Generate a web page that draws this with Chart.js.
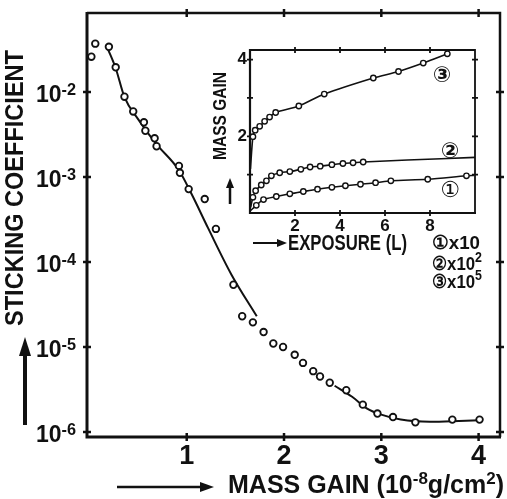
<!DOCTYPE html>
<html>
<head>
<meta charset="utf-8">
<script src="https://cdn.jsdelivr.net/npm/chart.js@4.4.1/dist/chart.umd.min.js"></script>
<style>
  html, body { margin: 0; padding: 0; background: #fff; }
  #wrap { position: relative; width: 507px; height: 499px; overflow: hidden; }
  #main { position: absolute; left: 0; top: 0; }
  #inset { position: absolute; left: 220px; top: 30px; }
</style>
</head>
<body>
<div id="wrap">
  <canvas id="main" width="507" height="499"></canvas>
  <canvas id="inset" width="287" height="260"></canvas>
</div>
<script>
// ---------------- DATA (main plot) ----------------
const massGain = [0.02, 0.06, 0.20, 0.27, 0.36, 0.45, 0.56, 0.575, 0.67, 0.69, 0.92, 0.93, 1.02, 1.185, 1.30,
                  1.48, 1.57, 1.68, 1.79, 1.89, 1.99, 2.11, 2.195, 2.30, 2.37, 2.47, 2.64, 2.81, 2.96, 3.12, 3.35, 3.73, 4.01];
const sticking = [2.6e-2, 3.7e-2, 3.4e-2, 1.95e-2, 8.8e-3, 5.9e-3, 4.4e-3, 3.5e-3, 2.85e-3, 2.3e-3, 1.35e-3, 1.12e-3, 7.2e-4, 5.5e-4, 2.45e-4,
                  5.4e-5, 2.3e-5, 1.95e-5, 1.5e-5, 1.1e-5, 1.0e-5, 8.1e-6, 6.5e-6, 5.2e-6, 4.5e-6, 3.8e-6, 3.1e-6, 2.1e-6, 1.65e-6, 1.5e-6, 1.3e-6, 1.4e-6, 1.4e-6];
// hand-drawn fitted curve (null = break in the drawn line)
const curveGain     = [0.19, 0.27, 0.36, 0.50, 0.68, 0.92, 1.05, 1.22, 1.46, 1.72, 2.0, 2.52, 2.70, 2.85, 3.00, 3.20, 3.50, 3.80, 4.01];
const curveSticking = [3.2e-2, 1.9e-2, 8.7e-3, 4.8e-3, 2.5e-3, 1.2e-3, 6.3e-4, 2.5e-4, 7.1e-5, 2.3e-5, null, 3.5e-6, 2.6e-6, 1.9e-6, 1.6e-6, 1.4e-6, 1.32e-6, 1.35e-6, 1.38e-6];
const xTickValues = [1, 2, 3, 4];
const xTickLabels = ['1', '2', '3', '4'];
const yTickValues = [1e-6, 1e-5, 1e-4, 1e-3, 1e-2];
const yTickExponents = ['-6', '-5', '-4', '-3', '-2'];

// ---------------- DATA (inset) ----------------
const exposure1 = [0.28, 0.6, 1.17, 1.77, 2.37, 3.0, 3.64, 4.24, 4.91, 5.58, 6.26, 7.9, 9.62];
const gain1     = [0.20, 0.35, 0.43, 0.50, 0.56, 0.62, 0.67, 0.71, 0.75, 0.79, 0.84, 0.88, 0.97];
const exposure2 = [0.13, 0.25, 0.5, 0.73, 0.95, 1.32, 1.77, 2.26, 2.67, 3.12, 3.64, 4.13, 4.58, 5.03];
const gain2     = [0.41, 0.58, 0.73, 0.84, 0.97, 1.05, 1.08, 1.14, 1.20, 1.22, 1.26, 1.29, 1.31, 1.33];
const exposure3 = [0.13, 0.23, 0.43, 0.65, 0.87, 1.14, 2.17, 3.3, 5.48, 6.6, 7.7, 8.77];
const gain3     = [1.99, 2.16, 2.26, 2.39, 2.50, 2.62, 2.79, 3.10, 3.52, 3.69, 3.91, 4.15];
// drawn lines of the inset
const line1X = [0.02, 0.28, 0.6, 1.17, 1.77, 2.37, 3.0, 3.64, 4.24, 4.91, 5.58, 6.26, 7.9, 9.62, 9.95];
const line1Y = [0.06, 0.20, 0.35, 0.43, 0.50, 0.56, 0.62, 0.67, 0.71, 0.75, 0.79, 0.84, 0.88, 0.97, 0.98];
const line2X = [0.03, 0.13, 0.25, 0.5, 0.73, 0.95, 1.32, 1.77, 2.26, 2.67, 3.12, 3.64, 4.13, 4.58, 5.03, 7.0, 10.0];
const line2Y = [0.15, 0.41, 0.58, 0.73, 0.84, 0.97, 1.05, 1.08, 1.14, 1.20, 1.22, 1.26, 1.29, 1.31, 1.33, 1.38, 1.45];
const line3X = [0.02, 0.13, 0.23, 0.43, 0.65, 0.87, 1.14, 2.17, 3.3, 5.48, 6.6, 7.7, 8.77];
const line3Y = [1.15, 1.99, 2.16, 2.26, 2.39, 2.50, 2.62, 2.79, 3.10, 3.52, 3.69, 3.91, 4.15];
const insetXTicks = [2, 4, 6, 8];
const insetYTicks = [1, 2, 3, 4];
const insetYLabels = {2: '2', 4: '4'};

// ---------------- helpers ----------------
const INK = '#111';
const FAM = '"Liberation Sans", Arial, sans-serif';
const pts = (xs, ys) => xs.map((x, i) => ({x: x, y: ys[i]}));

// draw text made of parts (some superscript), squeezed to a given width
function rich(ctx, parts, o) {
  ctx.save();
  const wt = o.weight || 'bold';
  const base = wt + ' ' + o.size + 'px ' + FAM;
  const sup = wt + ' ' + (o.supSize || Math.round(o.size * 0.68)) + 'px ' + FAM;
  let w = 0;
  parts.forEach(p => { ctx.font = p.sup ? sup : base; p.w = ctx.measureText(p.t).width; w += p.w; });
  const sx = o.fit ? o.fit / w : (o.sx || 1);
  ctx.translate(o.x, o.y);
  if (o.rot) ctx.rotate(o.rot);
  ctx.scale(sx, 1);
  let cx = o.align === 'center' ? -w / 2 : (o.align === 'right' ? -w : 0);
  ctx.textAlign = 'left'; ctx.textBaseline = 'alphabetic'; ctx.fillStyle = INK;
  parts.forEach(p => {
    ctx.font = p.sup ? sup : base;
    ctx.fillText(p.t, cx, p.sup ? -(o.raise || o.size * 0.4) : 0);
    cx += p.w;
  });
  ctx.restore();
}

function arrow(ctx, x1, y1, x2, y2, head, hw, w) {
  const a = Math.atan2(y2 - y1, x2 - x1), c = Math.cos(a), s = Math.sin(a);
  ctx.save();
  ctx.strokeStyle = INK; ctx.fillStyle = INK; ctx.lineWidth = w;
  ctx.beginPath(); ctx.moveTo(x1, y1);
  ctx.lineTo(x2 - c * head * 0.7, y2 - s * head * 0.7); ctx.stroke();
  ctx.beginPath();
  ctx.moveTo(x2, y2);
  ctx.lineTo(x2 - c * head + s * hw, y2 - s * head - c * hw);
  ctx.lineTo(x2 - c * head - s * hw, y2 - s * head + c * hw);
  ctx.closePath(); ctx.fill();
  ctx.restore();
}

function frameAndTicks(chart, xs, ys, lw, lwThin, tk) {
  const ctx = chart.ctx, a = chart.chartArea, sx = chart.scales.x, sy = chart.scales.y;
  ctx.save();
  ctx.strokeStyle = INK;
  ctx.lineWidth = lwThin;
  ctx.beginPath();
  ctx.moveTo(a.left, a.top); ctx.lineTo(a.right, a.top); ctx.lineTo(a.right, a.bottom);
  ctx.stroke();
  ctx.lineWidth = lw;
  ctx.beginPath();
  ctx.moveTo(a.left, a.top - 1); ctx.lineTo(a.left, a.bottom); ctx.lineTo(a.right + 1, a.bottom);
  ctx.stroke();
  ctx.lineWidth = Math.max(1.5, lwThin);
  ctx.beginPath();
  xs.forEach(v => {
    const px = sx.getPixelForValue(v);
    ctx.moveTo(px, a.bottom - tk); ctx.lineTo(px, a.bottom + tk);
    ctx.moveTo(px, a.top - tk); ctx.lineTo(px, a.top + tk);
  });
  ys.forEach(v => {
    const py = sy.getPixelForValue(v);
    ctx.moveTo(a.left - tk, py); ctx.lineTo(a.left + tk, py);
    ctx.moveTo(a.right - tk, py); ctx.lineTo(a.right + tk, py);
  });
  ctx.stroke();
  ctx.restore();
}

// ---------------- main chart ----------------
const mainDecor = {
  id: 'mainDecor',
  beforeDatasetsDraw(chart) {
    frameAndTicks(chart, xTickValues, yTickValues, 3, 2.5, 4);
  },
  afterDraw(chart) {
    const ctx = chart.ctx, sy = chart.scales.y;
    // y tick labels 10^n placed by the y scale
    yTickValues.forEach((v, i) => {
      const py = sy.getPixelForValue(v);
      rich(ctx, [{t: '10'}, {t: yTickExponents[i], sup: true}],
        {x: 76, y: py + 10, size: 24, supSize: 17, raise: 7, align: 'right', fit: 40});
    });
    // y title + arrow
    rich(ctx, [{t: 'STICKING COEFFICIENT'}],
      {x: 23, y: 188, size: 26, rot: -Math.PI / 2, align: 'center', fit: 276, raise: 0});
    arrow(ctx, 25, 425, 25, 337, 19, 6, 4);
    // x title + arrow
    rich(ctx, [{t: 'MASS GAIN (10'}, {t: '-8', sup: true}, {t: 'g/cm'}, {t: '2', sup: true}, {t: ')'}],
      {x: 228, y: 493, size: 25, supSize: 17, raise: 9, align: 'left', fit: 276});
    arrow(ctx, 117, 487, 214, 487, 14, 5, 2.5);
    // inset annotations outside the inset frame
    rich(ctx, [{t: 'MASS GAIN'}], {x: 226, y: 116, size: 18, rot: -Math.PI / 2, align: 'center', fit: 88});
    arrow(ctx, 230, 204, 230, 178, 10, 4, 2.5);
    arrow(ctx, 253, 243, 287, 243, 10, 4, 2);
    rich(ctx, [{t: 'EXPOSURE (L)'}], {x: 288, y: 250, size: 22, align: 'left', fit: 119});
    rich(ctx, [{t: '\u2460x10'}], {x: 432, y: 249, size: 19, align: 'left', fit: 48});
    rich(ctx, [{t: '\u2461x10'}, {t: '2', sup: true}], {x: 432, y: 270, size: 19, supSize: 14, raise: 8, align: 'left', fit: 50});
    rich(ctx, [{t: '\u2462x10'}, {t: '5', sup: true}], {x: 432, y: 288, size: 19, supSize: 14, raise: 8, align: 'left', fit: 50});
  }
};

new Chart(document.getElementById('main'), {
  type: 'scatter',
  data: {
    datasets: [
      {
        type: 'line',
        data: pts(curveGain, curveSticking),
        borderColor: INK, borderWidth: 2, pointRadius: 0, fill: false,
        cubicInterpolationMode: 'monotone', spanGaps: false, order: 2
      },
      {
        data: pts(massGain, sticking),
        pointRadius: 3.3, pointBorderWidth: 1.8, pointBorderColor: INK,
        pointBackgroundColor: '#fff', pointStyle: 'circle', showLine: false, order: 1
      }
    ]
  },
  options: {
    responsive: false, animation: false, devicePixelRatio: 1,
    layout: { padding: { top: 13, right: 7, left: 0, bottom: 0 } },
    plugins: { legend: { display: false }, tooltip: { enabled: false } },
    scales: {
      x: {
        type: 'linear', min: -0.025, max: 4.22,
        afterBuildTicks: s => { s.ticks = xTickValues.map(v => ({ value: v })); },
        afterFit: s => { s.height = 62; s.paddingLeft = 0; s.paddingRight = 0; },
        grid: { display: false, drawTicks: false },
        border: { display: false },
        ticks: {
          color: INK, font: { size: 27, family: FAM, weight: 'bold' }, padding: 3, maxRotation: 0,
          callback: v => xTickLabels[xTickValues.indexOf(v)]
        }
      },
      y: {
        type: 'logarithmic', min: 8.74e-7, max: 0.0849,
        afterBuildTicks: s => { s.ticks = yTickValues.map(v => ({ value: v })); },
        afterFit: s => { s.width = 87; s.paddingTop = 0; s.paddingBottom = 0; },
        grid: { display: false, drawTicks: false },
        border: { display: false },
        ticks: { display: false }
      }
    }
  },
  plugins: [mainDecor]
});

// ---------------- inset chart ----------------
const insetDecor = {
  id: 'insetDecor',
  beforeDatasetsDraw(chart) {
    frameAndTicks(chart, insetXTicks, insetYTicks, 2.2, 1.8, 3);
  },
  afterDraw(chart) {
    const ctx = chart.ctx;
    ctx.save();
    ctx.fillStyle = INK;
    ctx.textAlign = 'center'; ctx.textBaseline = 'middle';
    ctx.font = 'bold 22px "DejaVu Sans", sans-serif';
    ctx.fillText('\u2462', 222, 46);
    ctx.fillText('\u2461', 230, 122);
    ctx.font = '22px "DejaVu Sans", sans-serif';
    ctx.fillText('\u2460', 230, 161);
    ctx.restore();
  }
};

new Chart(document.getElementById('inset'), {
  type: 'scatter',
  data: {
    datasets: [
      { type: 'line', data: pts(line1X, line1Y), borderColor: INK, borderWidth: 1.6, pointRadius: 0, tension: 0.3, order: 2 },
      { type: 'line', data: pts(line2X, line2Y), borderColor: INK, borderWidth: 1.6, pointRadius: 0, tension: 0.3, order: 2 },
      { type: 'line', data: pts(line3X, line3Y), borderColor: INK, borderWidth: 1.6, pointRadius: 0, tension: 0.3, order: 2 },
      { data: pts(exposure1, gain1), pointRadius: 2.7, pointBorderWidth: 1.4, pointBorderColor: INK, pointBackgroundColor: '#fff', order: 1 },
      { data: pts(exposure2, gain2), pointRadius: 2.7, pointBorderWidth: 1.4, pointBorderColor: INK, pointBackgroundColor: '#fff', order: 1 },
      { data: pts(exposure3, gain3), pointRadius: 2.7, pointBorderWidth: 1.4, pointBorderColor: INK, pointBackgroundColor: '#fff', order: 1 }
    ]
  },
  options: {
    responsive: false, animation: false, devicePixelRatio: 1,
    layout: { padding: { top: 20, right: 32, left: 0, bottom: 0 } },
    plugins: { legend: { display: false }, tooltip: { enabled: false } },
    scales: {
      x: {
        type: 'linear', min: 0, max: 10,
        afterBuildTicks: s => { s.ticks = insetXTicks.map(v => ({ value: v })); },
        afterFit: s => { s.height = 77; s.paddingLeft = 0; s.paddingRight = 0; },
        grid: { display: false, drawTicks: false },
        border: { display: false },
        ticks: { color: INK, font: { size: 17, family: FAM, weight: 'bold' }, padding: 3, maxRotation: 0, callback: v => String(v) }
      },
      y: {
        type: 'linear', min: 0, max: 4.25,
        afterBuildTicks: s => { s.ticks = insetYTicks.map(v => ({ value: v })); },
        afterFit: s => { s.width = 30; s.paddingTop = 0; s.paddingBottom = 0; },
        grid: { display: false, drawTicks: false },
        border: { display: false },
        ticks: { color: INK, font: { size: 17, family: FAM, weight: 'bold' }, padding: 3, callback: v => insetYLabels[v] || '' }
      }
    }
  },
  plugins: [insetDecor]
});
</script>
</body>
</html>
